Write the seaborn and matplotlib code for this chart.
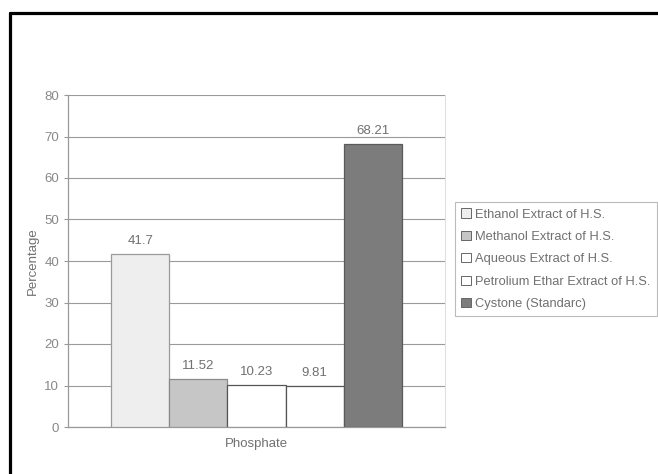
import seaborn as sns
import matplotlib.pyplot as plt
import pandas as pd
from matplotlib.lines import Line2D

categories = ["Phosphate"]
series = ["Ethanol Extract of H.S.", "Methanol Extract of H.S.", "Aqueous Extract of H.S.",
          "Petrolium Ethar Extract of H.S.", "Cystone (Standarc)"]
values = [41.7, 11.52, 10.23, 9.81, 68.21]
labels = ["41.7", "11.52", "10.23", "9.81", "68.21"]
colors = ["#eeeeee", "#c6c6c6", "#ffffff", "#ffffff", "#7c7c7c"]
edges = ["#9a9a9a", "#8a8a8a", "#555555", "#555555", "#5a5a5a"]

df = pd.DataFrame({"cat": categories * len(series), "series": series, "val": values})

sns.set_style("white")
plt.rcParams["font.family"] = ["Liberation Sans", "DejaVu Sans"]
txt = "#707070"

fig = plt.figure(figsize=(6.58, 4.74), dpi=100)
ax = fig.add_axes([68 / 658, 1 - 427 / 474, 377 / 658, 332 / 474])

sns.barplot(data=df, x="cat", y="val", hue="series", palette=colors, width=0.77,
            saturation=1, legend=False, ax=ax, zorder=3)

for cont, ec, lab in zip(ax.containers, edges, labels):
    for p in cont:
        p.set_edgecolor(ec)
        p.set_linewidth(0.9)
    ax.bar_label(cont, labels=[lab], padding=5, fontsize=9.5, color=txt)

ax.set_ylim(0, 80)
ax.set_xlim(-0.5, 0.5)
ax.set_yticks(range(0, 81, 10))
ax.yaxis.grid(True, color="#9a9a9a", linewidth=0.8, zorder=0)
ax.set_axisbelow(True)
ax.set_ylabel("Percentage", fontsize=9.5, color=txt, labelpad=4)
ax.set_xlabel("")
ax.tick_params(axis="y", labelsize=9.5, labelcolor="#888888", length=3, color="#999999", left=True)
ax.tick_params(axis="x", labelsize=9.5, labelcolor=txt, length=0, pad=8)
for s in ["left", "bottom"]:
    ax.spines[s].set_color("#999999")
    ax.spines[s].set_linewidth(0.9)
ax.spines["top"].set_visible(False)
ax.spines["right"].set_color("#e0e0e0")

handles = [plt.Rectangle((0, 0), 1, 1, facecolor=c, edgecolor="#666666", linewidth=0.7)
           for c in colors]
leg = fig.legend(handles, series, loc="upper left", bbox_to_anchor=(455 / 658, 1 - 202 / 474),
                 fontsize=9.3, frameon=True, handlelength=0.7, handleheight=0.7,
                 handletextpad=0.35, labelspacing=0.8, borderpad=0.5, borderaxespad=0,
                 fancybox=False)
leg.get_frame().set_edgecolor("#aaaaaa")
leg.get_frame().set_linewidth(0.8)
for t in leg.get_texts():
    t.set_color(txt)

# outer frame (top and left edges of the scanned border)
fig.add_artist(Line2D([9.5 / 658, 1.0], [1 - 13 / 474, 1 - 13 / 474], color="black",
                      linewidth=2.3, transform=fig.transFigure))
fig.add_artist(Line2D([9.5 / 658, 9.5 / 658], [0.0, 1 - 13 / 474], color="black",
                      linewidth=2.3, transform=fig.transFigure))

fig.savefig("out.png", dpi=100)
